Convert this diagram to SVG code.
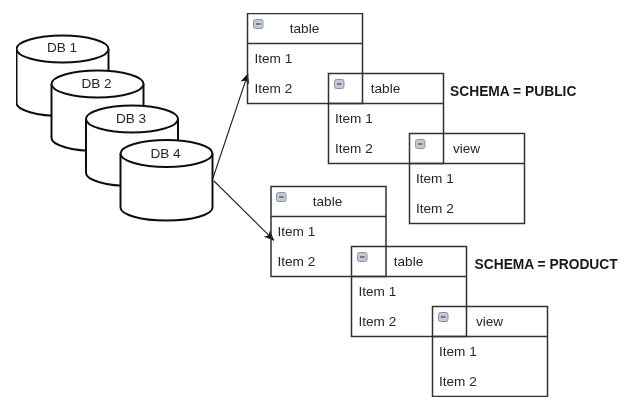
<svg xmlns="http://www.w3.org/2000/svg" width="633" height="415" viewBox="0 0 633 415">
<style>
.cyl{fill:#fff;stroke:#111;stroke-width:2}
.box{fill:none;stroke:#333;stroke-width:1.5}
.ico{fill:#c3cad6;stroke:#8b929e;stroke-width:1}
.min{stroke:#444;stroke-width:1.2}
.conn{fill:none;stroke:#222;stroke-width:1.1;marker-end:url(#arrow)}
text{font-family:"Liberation Sans",Arial,sans-serif;font-size:13.6px;fill:#2c2528}
.c{text-anchor:middle}
.b{font-weight:bold;font-size:13.8px;fill:#1e181c}
</style>
<defs>
<marker id="arrow" markerUnits="userSpaceOnUse" markerWidth="12" markerHeight="12" refX="10" refY="5" orient="auto"><path d="M0 0.5L10 5L0 9.5L2.5 5Z" fill="#111"/></marker>
<filter id="soft" x="0" y="0" width="100%" height="100%"><feGaussianBlur stdDeviation="0.45"/></filter>
<g id="minus"><rect class="ico" x="0" y="0" width="9.5" height="9" rx="2"/><path class="min" d="M2.5 4.5H7"/></g>
<g id="cyl"><path class="cyl" d="M-46 0V54A46 13 0 0 0 46 54V0"/><ellipse class="cyl" cx="0" cy="0" rx="46" ry="13.5"/></g>
</defs>
<rect width="633" height="415" fill="#fff"/>
<g filter="url(#soft)">
<g id="db1"><use href="#cyl" x="62.5" y="49"/><text class="c" x="62" y="52">DB 1</text></g>
<g id="db2"><use href="#cyl" x="97.5" y="84"/><text class="c" x="96.5" y="88">DB 2</text></g>
<g id="db3"><use href="#cyl" x="132" y="119"/><text class="c" x="131" y="123">DB 3</text></g>
<g id="db4"><use href="#cyl" x="166.5" y="153.5"/><text class="c" x="165.5" y="158">DB 4</text></g>
<g id="connectors">
<path class="conn" d="M213 178L248 73.5"/>
<path class="conn" d="M214 181L274 240.5"/>
</g>
<g id="t1"><rect class="box" x="247.5" y="13.5" width="115" height="90"/><path class="box" d="M247.5 43.5H362.5"/><use href="#minus" x="253.5" y="19.5"/><text class="c" x="304.5" y="33">table</text><text x="254.5" y="63">Item 1</text><text x="254.5" y="93">Item 2</text></g>
<g id="t2"><rect class="box" x="328.5" y="73.5" width="115" height="90"/><path class="box" d="M328.5 103.5H443.5"/><use href="#minus" x="334.5" y="79.5"/><text class="c" x="385.5" y="93">table</text><text x="335" y="123">Item 1</text><text x="335" y="153">Item 2</text></g>
<g id="v1"><rect class="box" x="409.5" y="133.5" width="115" height="90"/><path class="box" d="M409.5 163.5H524.5"/><use href="#minus" x="415.5" y="139.5"/><text class="c" x="466.5" y="153">view</text><text x="416" y="183">Item 1</text><text x="416" y="213">Item 2</text></g>
<g id="t3"><rect class="box" x="271" y="186.5" width="115" height="90"/><path class="box" d="M271 216.5H386"/><use href="#minus" x="276.5" y="192.5"/><text class="c" x="327.5" y="206">table</text><text x="277.5" y="236">Item 1</text><text x="277.5" y="266">Item 2</text></g>
<g id="t4"><rect class="box" x="351.5" y="246.5" width="115" height="90"/><path class="box" d="M351.5 276.5H466.5"/><use href="#minus" x="357.5" y="252.5"/><text class="c" x="408.5" y="266">table</text><text x="358.5" y="296">Item 1</text><text x="358.5" y="326">Item 2</text></g>
<g id="v2"><rect class="box" x="432.5" y="306.5" width="115" height="90"/><path class="box" d="M432.5 336.5H547.5"/><use href="#minus" x="438.5" y="312.5"/><text class="c" x="489.5" y="326">view</text><text x="439" y="356">Item 1</text><text x="439" y="386">Item 2</text></g>
<text class="b" x="450" y="96">SCHEMA = PUBLIC</text>
<text class="b" x="474.5" y="269">SCHEMA = PRODUCT</text>
</g>
</svg>
